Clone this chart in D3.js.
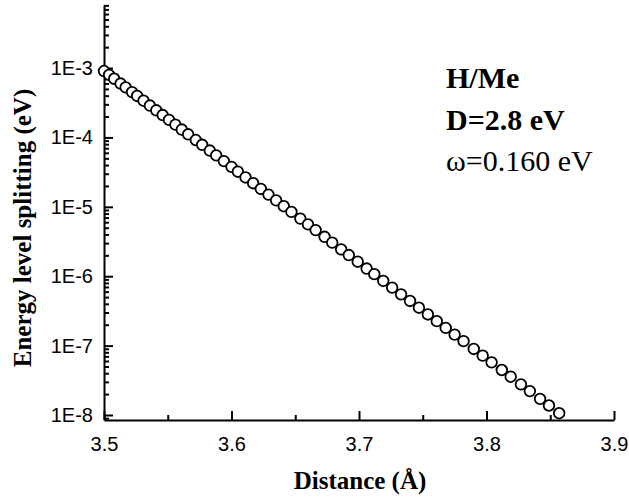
<!DOCTYPE html>
<html>
<head>
<meta charset="utf-8">
<script src="https://cdn.jsdelivr.net/npm/d3@7"></script>
<style>
  body { margin: 0; background: #fff; }
  svg { display: block; }
  .tick text { font-family: "Liberation Sans", Arial, sans-serif; font-size: 20px; fill: #000; }
  .domain, .tick line { stroke: #000; stroke-width: 2px; }
  .title { font-family: "Liberation Serif", "Times New Roman", serif; font-weight: bold; font-size: 25px; }
  .note { font-family: "Liberation Serif", "Times New Roman", serif; font-size: 30px; }
</style>
</head>
<body>
<div id="chart"></div>
<script>
// distances (Å) and level splitting (eV)
const distance = [
  3.500, 3.504, 3.508, 3.513, 3.517, 3.522, 3.526, 3.531, 3.536, 3.541,
  3.546, 3.551, 3.556, 3.561, 3.566, 3.572, 3.577, 3.583, 3.588, 3.594,
  3.600, 3.605, 3.611, 3.617, 3.623, 3.629, 3.635, 3.641, 3.647, 3.654,
  3.660, 3.666, 3.673, 3.679, 3.686, 3.692, 3.699, 3.706, 3.712, 3.719,
  3.726, 3.733, 3.740, 3.747, 3.754, 3.761, 3.768, 3.775, 3.782, 3.790,
  3.797, 3.804, 3.812, 3.819, 3.827, 3.834, 3.842, 3.849, 3.857
];
const splitting = [
  9.06e-4, 7.98e-4, 7.01e-4, 5.98e-4, 5.27e-4, 4.50e-4, 3.96e-4, 3.38e-4, 2.88e-4, 2.46e-4,
  2.10e-4, 1.79e-4, 1.53e-4, 1.30e-4, 1.11e-4, 9.18e-5, 7.83e-5, 6.47e-5, 5.52e-5, 4.56e-5,
  3.77e-5, 3.21e-5, 2.65e-5, 2.19e-5, 1.81e-5, 1.50e-5, 1.24e-5, 1.02e-5, 8.45e-6, 6.76e-6,
  5.58e-6, 4.62e-6, 3.70e-6, 3.05e-6, 2.44e-6, 2.02e-6, 1.62e-6, 1.29e-6, 1.07e-6, 8.57e-7,
  6.85e-7, 5.48e-7, 4.40e-7, 3.52e-7, 2.81e-7, 2.25e-7, 1.80e-7, 1.44e-7, 1.16e-7, 8.95e-8,
  7.16e-8, 5.74e-8, 4.45e-8, 3.56e-8, 2.76e-8, 2.21e-8, 1.71e-8, 1.37e-8, 1.06e-8
];

const xTicks = [3.5, 3.6, 3.7, 3.8, 3.9];
const xMinor = [3.55, 3.65, 3.75, 3.85];
const yTicks = [1e-8, 1e-7, 1e-6, 1e-5, 1e-4, 1e-3];
const yLabels = ["1E-8", "1E-7", "1E-6", "1E-5", "1E-4", "1E-3"];
const notes = ["H/Me", "D=2.8 eV", "\u03c9=0.160 eV"];

const width = 629, height = 497;
const svg = d3.select("#chart").append("svg")
    .attr("width", width)
    .attr("height", height);

const x = d3.scaleLinear().domain([3.5, 3.9]).range([104, 614]);
const y = d3.scaleLog().domain([8.47e-9, 8.1e-3]).range([420, 5]);

// minor y ticks: 2..9 in every decade inside the domain
const yMinor = [];
for (let e = -9; e <= -3; e++) {
  for (let m = 2; m <= 9; m++) {
    const v = m * Math.pow(10, e);
    if (v > y.domain()[0] && v < y.domain()[1]) yMinor.push(v);
  }
}

// minor ticks first
svg.append("g")
    .attr("transform", "translate(0,420)")
    .call(d3.axisBottom(x).tickValues(xMinor).tickSize(-5).tickFormat(""))
    .call(g => g.select(".domain").remove());

svg.append("g")
    .attr("transform", "translate(104,0)")
    .call(d3.axisLeft(y).tickValues(yMinor).tickSize(-5).tickFormat(""))
    .call(g => g.select(".domain").remove());

// major axes
svg.append("g")
    .attr("transform", "translate(0,420)")
    .call(d3.axisBottom(x).tickValues(xTicks).tickSizeInner(-9).tickSizeOuter(0)
        .tickPadding(17).tickFormat(d3.format(".1f")));

svg.append("g")
    .attr("transform", "translate(104,0)")
    .call(d3.axisLeft(y).tickValues(yTicks).tickSizeInner(-9).tickSizeOuter(0)
        .tickPadding(11).tickFormat((d, i) => yLabels[i]));

// data points
svg.append("g")
  .selectAll("circle")
  .data(distance)
  .join("circle")
    .attr("cx", d => x(d))
    .attr("cy", (d, i) => y(splitting[i]))
    .attr("r", 5.3)
    .attr("fill", "#fff")
    .attr("stroke", "#000")
    .attr("stroke-width", 1.8);

// axis titles
svg.append("text")
    .attr("class", "title")
    .attr("x", 360)
    .attr("y", 489)
    .attr("text-anchor", "middle")
    .text("Distance (\u00c5)");

svg.append("text")
    .attr("class", "title")
    .attr("transform", "translate(31,228) rotate(-90)")
    .attr("text-anchor", "middle")
    .text("Energy level splitting (eV)");

// annotation
svg.selectAll(".note")
  .data(notes)
  .join("text")
    .attr("class", "note")
    .attr("x", 446)
    .attr("y", (d, i) => 88 + i * 41.5)
    .attr("font-weight", (d, i) => i < 2 ? "bold" : "normal")
    .text(d => d);
</script>
</body>
</html>
